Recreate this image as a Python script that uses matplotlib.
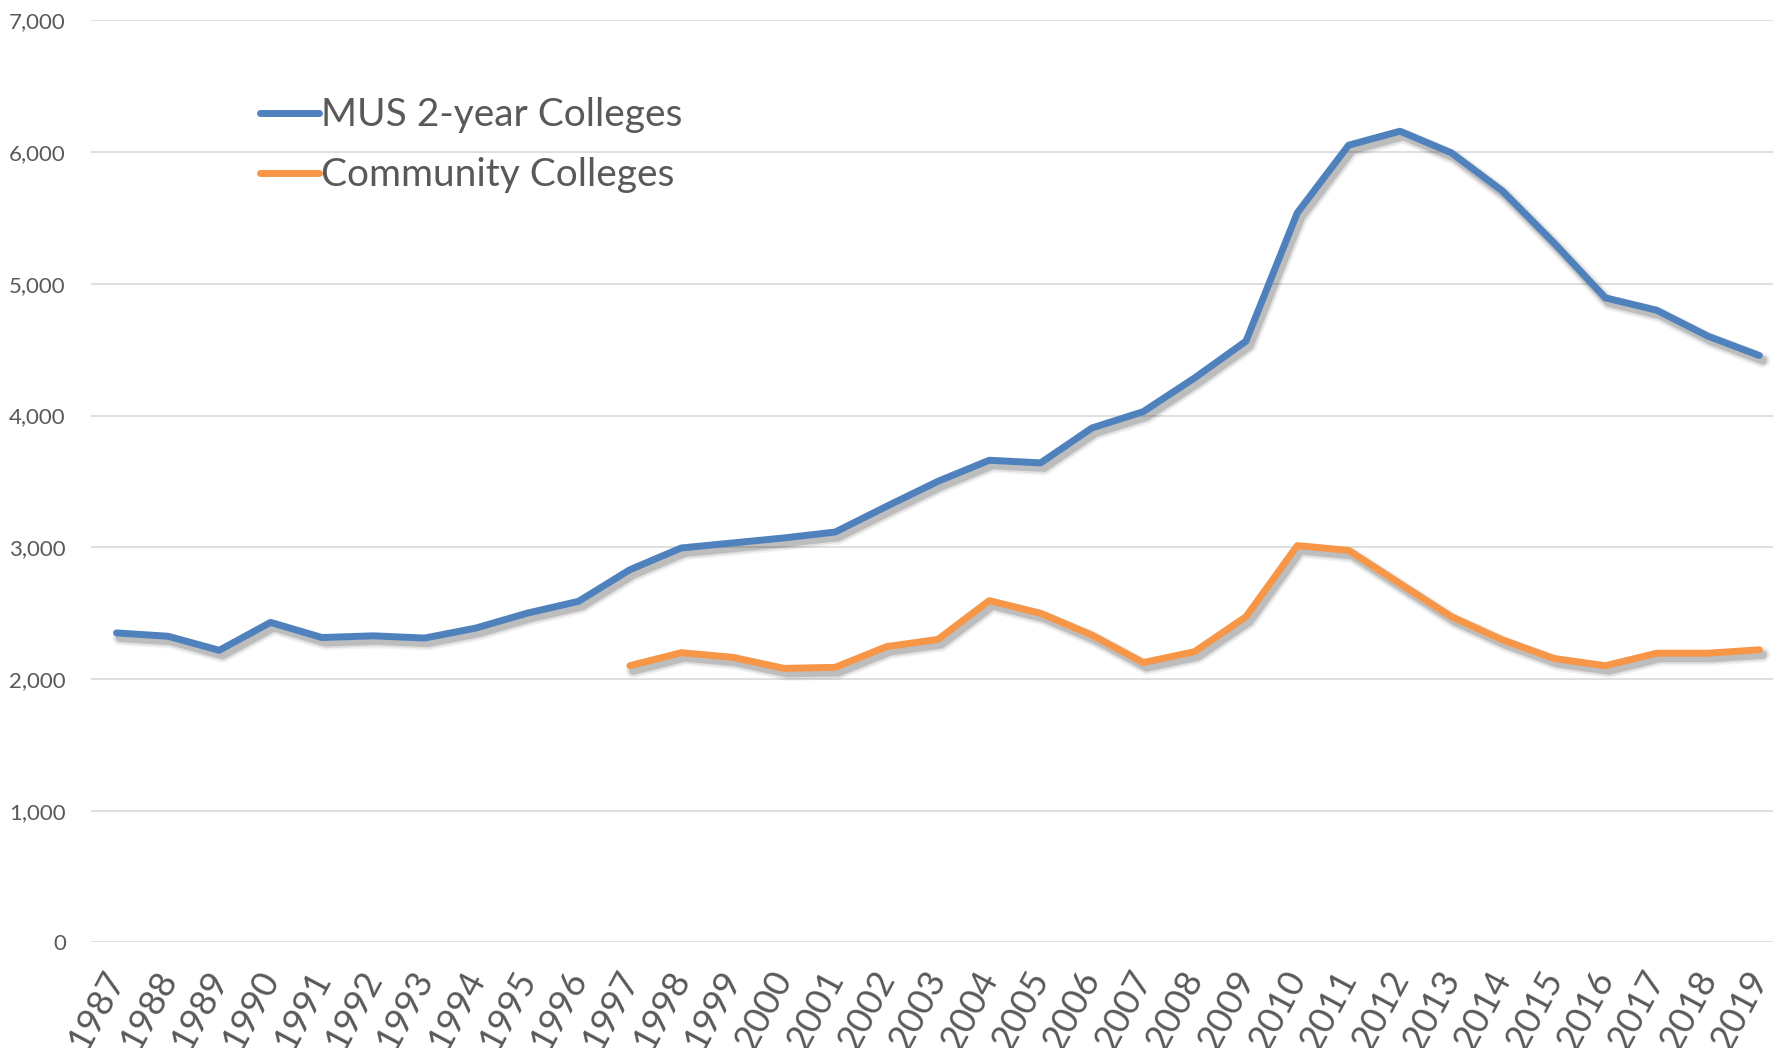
import matplotlib
matplotlib.use("Agg")
from matplotlib import pyplot as plt
from matplotlib import patheffects as pe
import numpy as np

years = [str(y) for y in range(1987, 2020)]

# MUS 2-year colleges, 1987-2019
mus_2yr = [2350, 2325, 2218, 2430, 2315, 2328, 2311, 2387, 2500, 2590,
           2830, 2995, 3033, 3071, 3116, 3311, 3501, 3661, 3641, 3906,
           4030, 4286, 4565, 5539, 6053, 6159, 5995, 5704, 5311, 4894,
           4800, 4603, 4456]

# community colleges, data starts in 1997
cc_years = [str(y) for y in range(1997, 2020)]
community = [2101, 2200, 2165, 2081, 2089, 2246, 2301, 2595, 2499, 2334,
             2125, 2208, 2473, 3013, 2977, 2725, 2474, 2297, 2156, 2101,
             2196, 2196, 2222]

text_col = "#595959"
blue = "#4F81BD"
orange = "#F79646"

plt.rcParams['font.family'] = ['Lato', 'DejaVu Sans']

fig = plt.figure(figsize=(17.74, 10.48), dpi=100)
ax = fig.add_axes([0.0512, 0.1007, 0.955, 0.8798])

# soft drop shadow, excel style
shadow = [pe.SimpleLineShadow(offset=(2.5, -3.5), shadow_color='k', alpha=0.05, linewidth=11),
          pe.SimpleLineShadow(offset=(2.5, -3.5), shadow_color='k', alpha=0.08, linewidth=8.5),
          pe.SimpleLineShadow(offset=(2.5, -3.5), shadow_color='k', alpha=0.15, linewidth=6),
          pe.Normal()]

x_all = np.arange(len(years))
x_cc = np.arange(len(years) - len(cc_years), len(years))

ax.plot(x_all, mus_2yr, color=blue, lw=5, solid_capstyle='round',
        solid_joinstyle='round', label="MUS 2-year Colleges", path_effects=shadow, zorder=3)
ax.plot(x_cc, community, color=orange, lw=5, solid_capstyle='round',
        solid_joinstyle='round', label="Community Colleges", path_effects=shadow, zorder=3)

ax.set_xlim(-0.5, len(years) - 0.5)
ax.set_ylim(0, 7000)
ax.set_yticks(range(0, 7001, 1000))
ax.set_yticklabels(["{:,}".format(v) for v in range(0, 7001, 1000)])
ax.grid(axis='y', color='#D9D9D9', lw=1.2)
ax.set_axisbelow(True)
for s in ax.spines.values():
    s.set_visible(False)

ax.tick_params(axis='y', length=0, pad=18, labelsize=16, labelcolor=text_col)
ax.tick_params(axis='x', length=0, pad=22, labelsize=26, labelcolor=text_col)
ax.set_xticks(x_all)
ax.set_xticklabels(years, rotation=62, ha='right', va='center', rotation_mode='anchor')

leg = ax.legend(loc='upper left', bbox_to_anchor=(0.138, 0.922), bbox_transform=fig.transFigure,
                frameon=False, fontsize=28, handlelength=1.5, handletextpad=0.05,
                labelspacing=0.62, borderaxespad=0)
for t in leg.get_texts():
    t.set_color(text_col)
for h in leg.get_lines():
    h.set_linewidth(5)
    h.set_solid_capstyle('round')
    h.set_path_effects([])

fig.savefig("out.png", dpi=100)
